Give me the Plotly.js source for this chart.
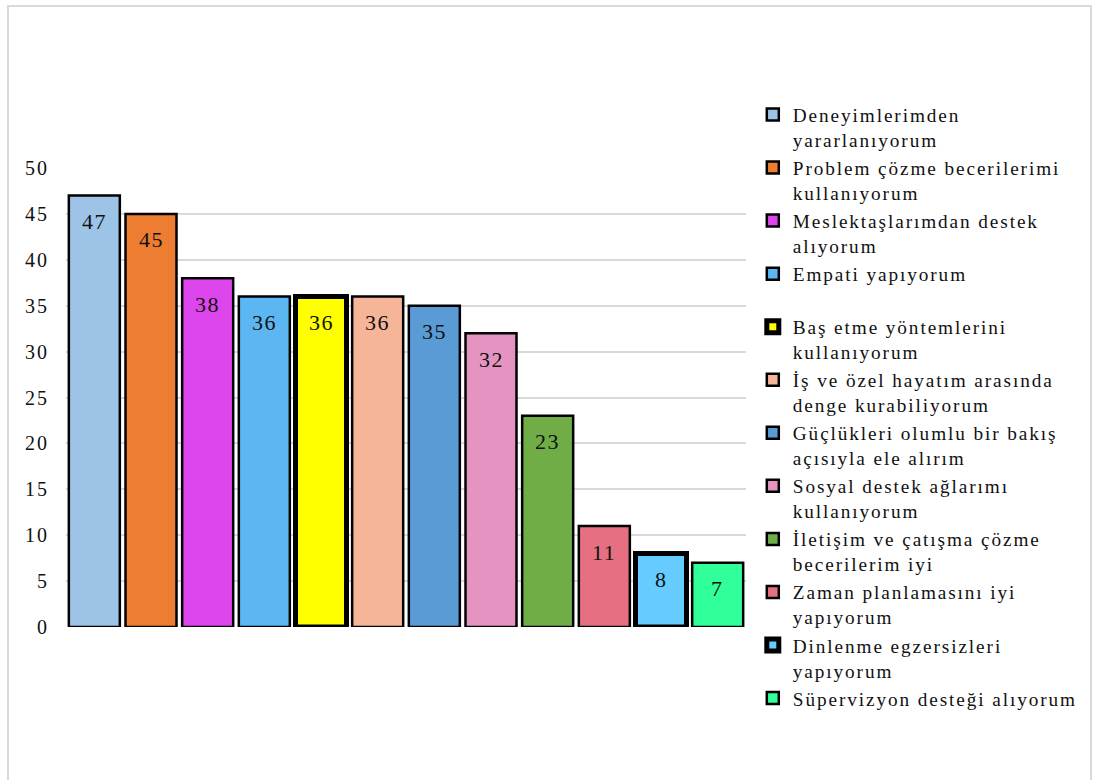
<!DOCTYPE html>
<html>
<head>
<meta charset="utf-8">
<script src="https://cdn.plot.ly/plotly-3.0.1.min.js"></script>
<style>
  html, body { margin: 0; padding: 0; background: #fff; }
  #frame { position: absolute; left: 7px; top: 5px; width: 1085px; height: 800px; border: 2px solid #d9d9d9; box-sizing: border-box; pointer-events: none; z-index: 5; }
  #chart { position: absolute; left: 0; top: 0; width: 1097px; height: 780px; }
  .legendtext { letter-spacing: 1.9px; font-family: "Liberation Serif", serif !important; }
  .ytick text { letter-spacing: 2px; }
  .annotation-text { letter-spacing: 1.5px; }
</style>
</head>
<body>
<div id="chart"></div>
<div id="frame"></div>
<script>
const categories = [
  "Deneyimlerimden<br>yararlanıyorum",
  "Problem çözme becerilerimi<br>kullanıyorum",
  "Meslektaşlarımdan destek<br>alıyorum",
  "Empati yapıyorum<br>\u00A0",
  "Baş etme yöntemlerini<br>kullanıyorum",
  "İş ve özel hayatım arasında<br>denge kurabiliyorum",
  "Güçlükleri olumlu bir bakış<br>açısıyla ele alırım",
  "Sosyal destek ağlarımı<br>kullanıyorum",
  "İletişim ve çatışma çözme<br>becerilerim iyi",
  "Zaman planlamasını iyi<br>yapıyorum",
  "Dinlenme egzersizleri<br>yapıyorum",
  "Süpervizyon desteği alıyorum"
];
const values = [47, 45, 38, 36, 36, 36, 35, 32, 23, 11, 8, 7];
const colors = ["#9DC3E6", "#ED7D31", "#DD46EC", "#5BB6F2", "#FFFF00", "#F6B598",
                "#5B9BD5", "#E594C1", "#70AD47", "#E67082", "#66CCFF", "#30FF9A"];
const outlineWidths = [2.5, 2.5, 2.5, 2.5, 5, 2.5, 2.5, 2.5, 2.5, 2.5, 5, 2.5];
const yTicks = [0, 5, 10, 15, 20, 25, 30, 35, 40, 45, 50];

const serif = "Liberation Serif";

const xKeys = categories.map((_, i) => "c" + i);

const traces = categories.map((name, i) => ({
  type: "bar",
  name: name,
  legendgroup: "g" + i,
  x: [xKeys[i]],
  y: [values[i]],
  marker: { color: colors[i], line: { color: "#000", width: outlineWidths[i] } },
  hoverinfo: "skip"
}));

const annotations = values.map((v, i) => ({
  x: xKeys[i],
  y: v,
  xref: "x",
  yref: "y",
  text: String(v),
  showarrow: false,
  xanchor: "center",
  yanchor: "middle",
  yshift: -26,
  font: { family: serif, size: 22, color: "#111" }
}));

const layout = {
  width: 1097,
  height: 780,
  font: { family: serif, size: 19, color: "#111" },
  paper_bgcolor: "#fff",
  plot_bgcolor: "#fff",
  margin: { l: 66, r: 351, t: 168, b: 153 },
  barmode: "overlay",
  bargap: 0.1,
  showlegend: true,
  annotations: annotations,
  legend: {
    x: 1.010, xanchor: "left", xref: "paper",
    y: 1.158, yanchor: "top", yref: "paper",
    valign: "top",
    traceorder: "normal",
    tracegroupgap: 0,
    maxheight: 1,
    font: { family: serif, size: 19.25, color: "#111" },
    bgcolor: "rgba(0,0,0,0)",
    itemclick: false
  },
  xaxis: {
    type: "category",
    showticklabels: false,
    showgrid: false,
    zeroline: false,
    showline: false,
    ticks: "",
    range: [-0.5, 11.5]
  },
  yaxis: {
    range: [0, 50],
    tickvals: yTicks,
    ticktext: yTicks.map(String),
    showgrid: true,
    gridcolor: "#d9d9d9",
    gridwidth: 2,
    zeroline: false,
    showline: false,
    ticks: "",
    ticklabelstandoff: 16,
    tickfont: { family: serif, size: 20, color: "#111" }
  }
};

Plotly.newPlot("chart", traces, layout, { staticPlot: true, displayModeBar: false });
</script>
</body>
</html>
